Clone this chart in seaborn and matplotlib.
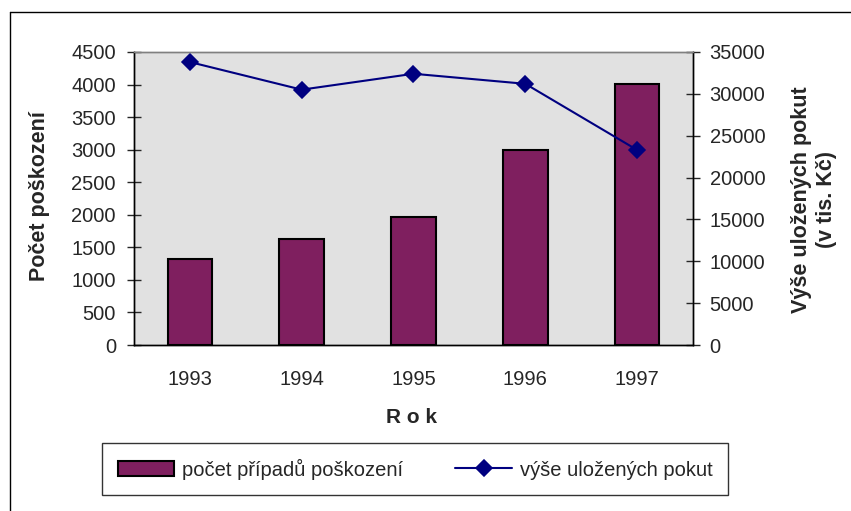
import pandas as pd
import numpy as np
import seaborn as sns
from matplotlib import pyplot as plt
from matplotlib.lines import Line2D

years = ['1993', '1994', '1995', '1996', '1997']
pocet = [1320, 1625, 1960, 3000, 4010]
pokuty = [33800, 30500, 32400, 31200, 23300]

bar_color = '#7F1F5F'
line_color = '#000080'

sns.set_style('white')
plt.rcParams['font.family'] = ['Liberation Sans', 'DejaVu Sans']

df = pd.DataFrame({'rok': years, 'pocet': pocet, 'pokuty': pokuty})

fig = plt.figure(figsize=(8.51, 5.11), dpi=100)
ax = fig.add_axes([134/851, 1-345/511, (693-134)/851, (345-52)/511])
ax.set_facecolor('#E1E1E1')

sns.barplot(data=df, x='rok', y='pocet', color=bar_color, width=0.4,
            edgecolor='black', linewidth=1.5, saturation=1, ax=ax,
            label='počet případů poškození')
ax.set_ylim(0, 4500)
ax.set_yticks(np.arange(0, 4501, 500))
ax.set_xlim(-0.5, 4.5)

ax2 = ax.twinx()
sns.pointplot(data=df, x='rok', y='pokuty', color=line_color, markers='D',
              markersize=8, linewidth=1.5, ax=ax2, label='výše uložených pokut')
ax2.set_ylim(0, 35000)
ax2.set_yticks(np.arange(0, 35001, 5000))
ax2.set_xlim(-0.5, 4.5)

h1, l1 = ax.get_legend_handles_labels()
h2, l2 = ax2.get_legend_handles_labels()
for a in (ax, ax2):
    if a.get_legend() is not None:
        a.get_legend().remove()
    for s in a.spines.values():
        s.set_color('black')
        s.set_linewidth(1)
    a.spines['top'].set_color('#808080')
    a.set_xlabel('')
    a.set_ylabel('')

fs = 14.5
ax.tick_params(axis='y', direction='inout', length=10, width=1, labelsize=fs, pad=8)
ax2.tick_params(axis='y', direction='inout', length=10, width=1, labelsize=fs, pad=7)
ax.tick_params(axis='x', which='major', length=0, labelsize=fs, pad=18)
ax.set_xticks(np.arange(-0.5, 5, 1), minor=True)
ax.tick_params(axis='x', which='minor', direction='out', length=9, width=1)
ax.set_xticks(range(5), years)

fig.text(40/851, 1-196/511, 'Počet poškození', rotation=90, ha='center', va='center',
         fontsize=15.5, fontweight='bold')
fig.text(814/851, 1-200/511, 'Výše uložených pokut\n(v tis. Kč)', rotation=90,
         ha='center', va='center', fontsize=15.5, fontweight='bold', linespacing=1.25)
fig.text(412/851, 1-417/511, 'R o k', ha='center', va='center', fontsize=15,
         fontweight='bold')

leg = fig.legend(h1 + h2, l1 + l2, loc='center', bbox_to_anchor=(415/851, 1-469/511),
                 ncol=2, fontsize=fs, frameon=True, fancybox=False, edgecolor='black',
                 handlelength=2.8, handletextpad=0.4, columnspacing=2.6, borderpad=0.75)
leg.get_frame().set_linewidth(1)

# outer chart frame
fig.add_artist(Line2D([10/851, 10/851], [0, 1-12/511], color='black', lw=1))
fig.add_artist(Line2D([10/851, 1], [1-12/511, 1-12/511], color='black', lw=1))

fig.savefig('out.png', dpi=100)
